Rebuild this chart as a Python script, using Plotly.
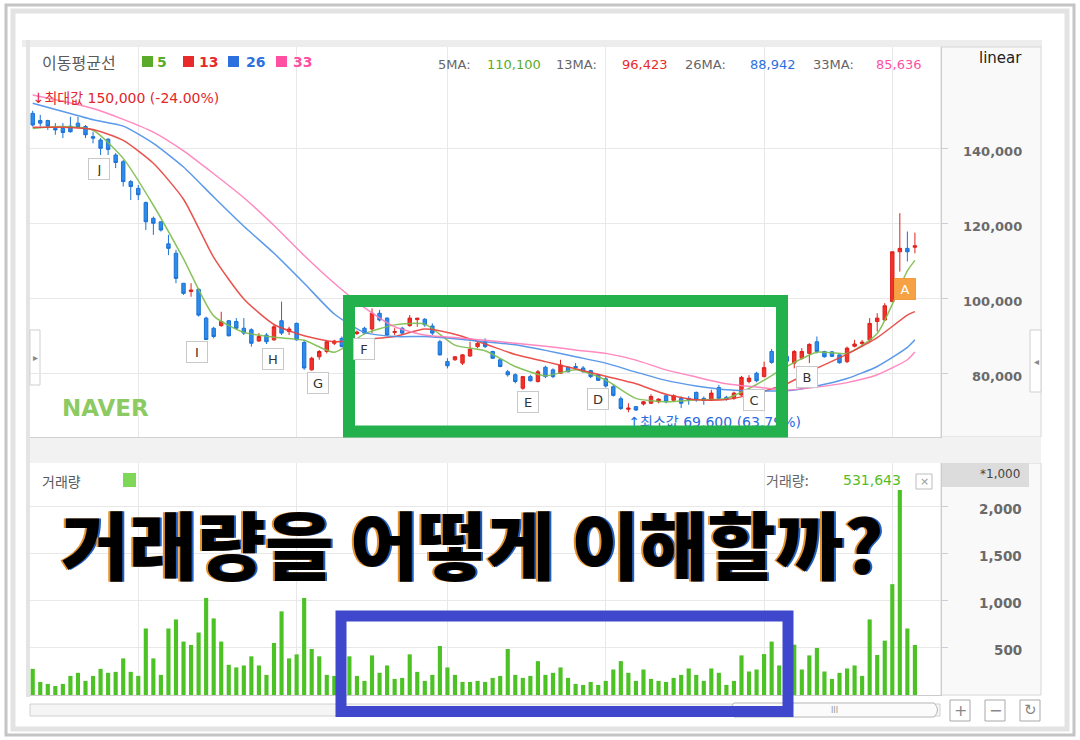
import plotly.graph_objects as go

W, H = 1080, 740


def px(x):
    return x / W


def py(y):
    return 1 - y / H


# ---------------- data (prices in thousand won, volume in thousand shares) ----------------
open_k = [149.3, 147.4, 147.4, 145.3, 145.3, 145.9, 146.7, 145.8, 143.1, 142.2,
          142.4, 138.2, 136.4, 131.1, 129.3, 125.5, 121.3, 120.4, 114.5, 112.0,
          104.0, 101.8, 102.4, 94.7, 92.0, 92.7, 94.0, 93.8, 92.0, 91.6,
          88.6, 90.2, 88.9, 94.0, 91.1, 93.3, 88.2, 80.9, 84.4, 85.8,
          88.0, 89.3, 87.3, 90.6, 92.0, 91.8, 96.0, 94.7, 90.9, 92.0,
          92.7, 94.3, 94.4, 92.6, 88.4, 83.1, 83.6, 82.7, 84.6, 87.1,
          88.4, 85.8, 83.6, 80.4, 79.6, 76.0, 79.1, 77.8, 81.6, 80.9,
          80.0, 81.6, 81.8, 81.4, 80.7, 79.6, 78.5, 76.4, 73.2, 70.4,
          71.1, 71.8, 72.0, 72.4, 74.0, 72.8, 73.3, 73.3, 74.9, 73.3,
          72.9, 76.2, 73.6, 73.3, 74.2, 77.8, 80.0, 79.1, 85.8, 83.0,
          84.5, 82.7, 84.0, 85.3, 88.4, 85.8, 85.7, 84.9, 83.1, 87.2,
          87.9, 88.9, 93.8, 94.2, 99.1, 112.4, 113.3, 113.6]
high_k = [150.0, 148.9, 147.6, 146.7, 146.7, 148.4, 148.4, 146.2, 144.4, 142.7,
          142.7, 138.7, 136.9, 131.5, 130.2, 125.8, 121.8, 120.4, 116.9, 112.9,
          104.0, 104.0, 102.7, 95.1, 92.4, 96.4, 94.2, 94.7, 94.7, 92.0,
          90.7, 90.7, 92.9, 99.1, 92.4, 93.5, 88.9, 84.4, 86.2, 88.6,
          88.9, 89.8, 89.4, 91.4, 92.4, 97.3, 96.9, 94.9, 92.0, 92.4,
          95.5, 94.7, 94.7, 93.3, 88.9, 84.0, 84.5, 85.1, 88.4, 88.4,
          89.3, 86.0, 83.8, 80.9, 80.0, 79.3, 79.6, 80.9, 82.0, 81.3,
          83.6, 81.8, 82.7, 81.9, 80.9, 79.8, 79.1, 77.0, 73.8, 72.0,
          71.2, 72.6, 74.4, 73.3, 74.4, 74.4, 73.8, 73.9, 75.1, 73.8,
          75.6, 76.9, 74.0, 75.1, 79.3, 79.5, 80.4, 83.1, 86.5, 84.9,
          85.5, 86.2, 86.7, 88.0, 89.8, 86.0, 85.9, 85.0, 87.1, 88.9,
          88.9, 94.7, 96.0, 98.7, 112.4, 122.7, 117.8, 117.5]
low_k = [145.8, 145.8, 144.9, 143.6, 142.7, 144.2, 145.3, 142.7, 141.3, 138.2,
         138.2, 134.7, 129.8, 126.2, 126.2, 118.2, 116.9, 117.8, 111.5, 104.0,
         100.9, 100.4, 95.1, 88.9, 89.3, 92.4, 89.8, 91.6, 90.2, 87.1,
         88.4, 87.8, 88.7, 90.2, 90.2, 88.7, 80.9, 80.7, 83.6, 85.3,
         87.5, 86.9, 87.0, 90.2, 90.4, 90.7, 93.8, 90.0, 90.2, 90.2,
         92.4, 92.4, 92.4, 90.2, 84.7, 81.3, 83.3, 82.2, 84.4, 86.7,
         86.7, 83.8, 81.6, 79.1, 77.3, 75.6, 77.8, 77.5, 78.7, 78.7,
         79.8, 80.2, 80.9, 80.2, 78.7, 78.0, 76.2, 73.8, 70.2, 69.6,
         70.0, 71.4, 71.8, 72.0, 72.0, 72.4, 70.7, 71.6, 72.4, 71.6,
         72.6, 72.9, 72.7, 72.9, 74.0, 77.3, 77.6, 78.9, 82.5, 82.6,
         82.8, 81.3, 83.6, 82.7, 85.3, 84.2, 84.3, 82.6, 82.7, 86.9,
         87.1, 88.4, 91.1, 94.0, 99.0, 107.1, 109.8, 112.0]
close_k = [146.2, 146.7, 145.9, 144.9, 144.2, 144.4, 145.6, 143.6, 142.7, 140.0,
           139.7, 136.2, 131.1, 129.8, 127.6, 120.4, 120.0, 118.2, 113.3, 105.3,
           101.3, 102.2, 95.5, 89.0, 89.8, 93.8, 90.0, 92.0, 90.7, 88.0,
           89.8, 88.4, 92.4, 90.7, 91.8, 88.9, 81.4, 84.0, 85.8, 88.4,
           88.6, 87.1, 88.8, 91.0, 90.7, 96.0, 94.2, 90.2, 91.1, 90.7,
           94.7, 94.7, 92.9, 90.7, 84.9, 82.0, 84.4, 84.9, 86.4, 88.0,
           87.1, 84.0, 81.8, 79.6, 77.8, 79.1, 78.0, 80.4, 79.1, 79.1,
           82.2, 80.4, 81.5, 80.4, 79.1, 78.1, 76.6, 74.1, 70.6, 70.7,
           70.2, 72.4, 73.8, 73.1, 72.4, 74.0, 72.0, 72.9, 72.9, 72.8,
           74.7, 73.3, 73.0, 74.7, 78.9, 78.7, 78.0, 81.5, 82.9, 84.5,
           83.2, 85.8, 85.8, 87.7, 85.8, 84.4, 84.5, 82.8, 86.7, 87.8,
           88.3, 93.3, 94.7, 98.0, 112.4, 113.3, 112.4, 114.0]
volume_k = [278, 139, 118, 96, 118, 203, 236, 150, 203, 278,
            236, 246, 389, 246, 203, 707, 389, 214, 707, 803,
            568, 532, 664, 1032, 814, 568, 321, 293, 314, 411,
            314, 214, 553, 889, 389, 432, 1032, 489, 411, 214,
            203, 230, 411, 203, 150, 421, 236, 314, 171, 182,
            432, 246, 150, 214, 521, 293, 214, 139, 139, 150,
            139, 182, 203, 489, 214, 182, 203, 360, 214, 236,
            293, 182, 118, 107, 139, 107, 150, 271, 360, 236,
            150, 271, 171, 150, 139, 182, 214, 282, 214, 150,
            282, 236, 107, 150, 421, 250, 271, 435, 568, 314,
            300, 535, 271, 421, 500, 250, 171, 236, 282, 314,
            203, 803, 425, 578, 1178, 2180, 707, 531.643]

# moving averages at every 4th session
ma_idx = [0, 4, 8, 12, 16, 20, 24, 28, 32, 36, 40, 44, 48, 52, 56, 60,
          64, 68, 72, 76, 80, 84, 88, 92, 96, 100, 104, 108, 112, 116, 117]
ma5_k = [145.3, 145.8, 144.8, 137.3, 124.8, 110.5, 95.3, 90.9, 89.6, 88.8,
         85.6, 90.5, 92.9, 93.1, 87.5, 86.0, 81.8, 79.3, 80.9, 78.2,
         73.3, 72.4, 72.9, 73.3, 77.0, 81.8, 85.6, 85.3, 90.6, 107.3, 110.1]
ma13_k = [145.6, 145.6, 145.0, 142.1, 136.0, 126.4, 110.9, 99.8, 93.0, 90.0,
          88.4, 89.0, 89.8, 91.8, 90.4, 87.8, 85.0, 83.1, 81.2, 79.2,
          77.2, 74.4, 72.9, 73.0, 74.7, 77.2, 81.3, 85.1, 89.5, 95.5, 96.423]
ma26_k = [152.0, 149.8, 147.6, 145.9, 141.3, 135.0, 127.0, 119.2, 112.0, 104.0,
          95.8, 90.9, 89.8, 89.8, 89.2, 88.4, 87.6, 86.1, 84.4, 82.7,
          80.3, 78.1, 76.6, 75.6, 75.3, 75.3, 76.6, 78.6, 81.8, 86.9, 88.942]
ma33_k = [154.2, 152.5, 150.6, 147.7, 144.3, 139.3, 133.2, 126.8, 119.4, 111.4,
          104.0, 97.5, 92.4, 90.2, 89.5, 88.8, 88.0, 87.2, 86.2, 85.3,
          83.5, 80.9, 79.0, 77.2, 76.3, 75.5, 76.3, 77.5, 79.6, 83.6, 85.636]

ma_periods = ["5", "13", "26", "33"]
ma_colors = ["#7dbd4c", "#e8403b", "#4a8fe8", "#ff7dba"]
ma_text_colors = ["#5aab2a", "#e82a2a", "#2e6fe0", "#ff4fa3"]
month_idx = [14, 35, 55, 76, 97, 114]
price_ticks = [80000, 100000, 120000, 140000]
volume_ticks = [500, 1000, 1500, 2000]
signal_labels = ["J", "I", "H", "G", "F", "E", "D", "C", "B", "A"]
title_text = "거래량을 어떻게 이해할까?"

# ---------------- derived ----------------
K = 1000
x_idx = list(range(len(close_k)))
open_w = [round(v * K) for v in open_k]
high_w = [round(v * K) for v in high_k]
low_w = [round(v * K) for v in low_k]
close_w = [round(v * K) for v in close_k]
ma_series = [[round(v * K) for v in s] for s in (ma5_k, ma13_k, ma26_k, ma33_k)]

max_high = max(high_w)
min_low = min(low_w)
i_max = high_w.index(max_high)
i_min = low_w.index(min_low)
last_close = close_w[-1]
pct_from_max = (last_close / max_high - 1) * 100
pct_from_min = (last_close / min_low - 1) * 100

KFONT = "Noto Sans CJK KR, DejaVu Sans, sans-serif"
LFONT = "DejaVu Sans, Noto Sans CJK KR, sans-serif"

fig = go.Figure()

for s, c in zip(ma_series, ma_colors):
    fig.add_trace(go.Scatter(x=ma_idx, y=s, mode="lines",
                             line=dict(color=c, width=1.5, shape="spline", smoothing=0.6),
                             opacity=0.9, hoverinfo="skip", showlegend=False,
                             xaxis="x", yaxis="y"))

fig.add_trace(go.Candlestick(
    x=x_idx, open=open_w, high=high_w, low=low_w, close=close_w,
    increasing=dict(line=dict(color="#e0201c", width=1), fillcolor="#f0322d"),
    decreasing=dict(line=dict(color="#1b72d6", width=1), fillcolor="#2d8ceb"),
    whiskerwidth=0, showlegend=False, hoverinfo="skip", xaxis="x", yaxis="y"))

# max / min markers (text under the overlay boxes)
fig.add_trace(go.Scatter(
    x=[i_max], y=[max_high + 3000], mode="text",
    text=[f"↓최대값 {max_high:,} ({pct_from_max:.2f}%)"], textposition="middle right",
    textfont=dict(color="#e3262b", size=14, family=LFONT),
    hoverinfo="skip", showlegend=False, cliponaxis=False, xaxis="x", yaxis="y"))
fig.add_trace(go.Scatter(
    x=[i_min], y=[min_low - 3100], mode="text",
    text=[f"↑최소값 {min_low:,} ({pct_from_min:.2f}%)"], textposition="middle right",
    textfont=dict(color="#2a6be0", size=14, family=LFONT),
    hoverinfo="skip", showlegend=False, cliponaxis=False, xaxis="x", yaxis="y"))

fig.add_trace(go.Bar(x=x_idx, y=volume_k, width=0.55,
                     marker=dict(color="#4cc225", line=dict(width=0)),
                     hoverinfo="skip", showlegend=False, xaxis="x2", yaxis="y2"))

# ---------------- decorations ----------------
shapes = []


def rect(x0, y0, x1, y1, fill=None, line=None, lw=1, layer="below"):
    shapes.append(dict(type="rect", xref="paper", yref="paper",
                       x0=px(x0), x1=px(x1), y0=py(y1), y1=py(y0),
                       fillcolor=fill if fill else "rgba(0,0,0,0)",
                       line=dict(color=line if line else "rgba(0,0,0,0)", width=lw if line else 0),
                       layer=layer))


# sketchy outer frame
rect(6, 5, 1074, 735, line="#c4c4c4", lw=3)
rect(13, 11, 1067, 729, line="#e3e3e3", lw=5)
# widget frame
rect(22, 40, 1042, 47, fill="#ededed")
rect(26, 40, 30, 697, fill="#e4e4e4")
# right axis panels
rect(941, 47, 1041, 437, fill="#f9f9f9", line="#d6d6d6")
rect(941, 463, 1041, 695, fill="#f9f9f9", line="#d6d6d6")
rect(942, 463, 1029, 487, fill="#dcdcdc")
# band between panels
rect(30, 437, 1041, 463, fill="#f2f2f2")
# side tabs
rect(1030, 330, 1041, 392, fill="#ffffff", line="#cfcfcf")
rect(30, 330, 40, 385, fill="#ffffff", line="#cfcfcf")
# legend squares
leg_sq = [(142, 153), (183, 194), (228, 239), (276, 287)]
for (a, b), c in zip(leg_sq, ma_text_colors):
    rect(a, 56, b, 67, fill=c)
rect(123, 473, 136, 487, fill="#7ed858")
# close button in volume header
rect(916, 474, 932, 489, fill="#ffffff", line="#bdbdbd")
# scroll bar and buttons
rect(30, 704, 940, 716, fill="#f5f5f5", line="#d0d0d0")
shapes.append(dict(type="path", xref="paper", yref="paper",
                   path=(f"M {px(734)},{py(703)} L {px(934)},{py(703)} "
                         f"Q {px(941)},{py(710)} {px(934)},{py(717)} L {px(734)},{py(717)} "
                         f"Q {px(727)},{py(710)} {px(734)},{py(703)} Z"),
                   fillcolor="#fbfbfb", line=dict(color="#b5b5b5", width=1), layer="below"))
for a in (950, 985, 1020):
    rect(a, 700, a + 20, 721, fill="#ffffff", line="#a9a9a9")
# overlay boxes
rect(349, 301, 782, 431.5, line="#22b14c", lw=12, layer="above")
rect(341, 616, 788, 711.5, line="#3f48cc", lw=11, layer="above")

ann = []


def txt(x, y, s, size=13, color="#555", anchor="left", family=KFONT, weight="normal", **kw):
    ann.append(dict(x=px(x), y=py(y), xref="paper", yref="paper", text=s, showarrow=False,
                    xanchor=anchor, yanchor="middle",
                    font=dict(size=size, color=color, family=family, weight=weight), **kw))


# header of price panel
txt(40, 62, "이동평균선", size=16, color="#5a5a5a")
for xpos, lab, c in zip([155, 197, 244, 291], ma_periods, ma_text_colors):
    txt(xpos, 62, lab, size=14, color=c, family=LFONT, weight="bold")
ma_last = [ma5_k[-1], ma13_k[-1], ma26_k[-1], ma33_k[-1]]
lab_x = [436, 554, 683, 811]
val_x = [485, 620, 748, 874]
for p, lx, vx, v, c in zip(ma_periods, lab_x, val_x, ma_last, ma_text_colors):
    txt(lx, 64, f"{p}MA:", size=13, color="#666", family=LFONT)
    txt(vx, 64, f"{round(v * K):,}", size=13, color=c, family=LFONT)
txt(1000, 58, "linear", size=15, color="#222", anchor="center", family=LFONT)
txt(60, 408, "NAVER", size=23, color="#8cca63", family=LFONT, weight="bold")
txt(35, 357, "▸", size=10, color="#888", anchor="center", family=LFONT)
txt(1036, 361, "◂", size=10, color="#888", anchor="center", family=LFONT)

# volume header
txt(40, 481, "거래량", size=14, color="#5a5a5a")
txt(764, 480, "거래량:", size=14, color="#666")
txt(841, 480, f"{round(volume_k[-1] * K):,}", size=14, color="#55bd28", family=LFONT)
txt(924, 481, "×", size=11, color="#999", anchor="center", family=LFONT)
txt(1022, 474, "*1,000", size=12, color="#444", anchor="right", family=LFONT)

# scroll controls
txt(834, 710, "III", size=8, color="#999", anchor="center", family=LFONT)
txt(960, 710, "+", size=16, color="#888", anchor="center", family=LFONT)
txt(995, 710, "−", size=16, color="#888", anchor="center", family=LFONT)
txt(1030, 710, "↻", size=15, color="#888", anchor="center", family=LFONT)

# right-aligned axis labels
for v in price_ticks:
    ann.append(dict(x=px(1024), xref="paper", y=v, yref="y", yshift=-3, text=f"{v:,}",
                    showarrow=False, xanchor="right", yanchor="middle",
                    font=dict(size=13, color="#6a6a6a", family=LFONT, weight="bold")))
for v in volume_ticks:
    ann.append(dict(x=px(1024), xref="paper", y=v, yref="y2", yshift=-2, text=f"{v:,}",
                    showarrow=False, xanchor="right", yanchor="middle",
                    font=dict(size=13.5, color="#6a6a6a", family=LFONT, weight="bold")))

# signal labels on the candles
label_pos = [(8.73, 134350), (21.76, 85760), (31.89, 83730), (37.86, 77490), (43.96, 86480),
             (65.72, 72210), (74.95, 73150), (95.71, 72750), (102.75, 78990), (115.68, 102370)]
for lab, (lx, ly) in zip(signal_labels, label_pos):
    orange = lab == "A"
    ann.append(dict(x=lx, y=ly, xref="x", yref="y", text=lab, showarrow=False,
                    width=14, height=14, borderpad=3,
                    bgcolor="#f7a145" if orange else "#ffffff",
                    bordercolor="#f39a3c" if orange else "#c9c9c9", borderwidth=1,
                    font=dict(size=13, color="#ffffff" if orange else "#333333", family=LFONT)))

# big title with colour fringe (as text shadow)
ann.append(dict(x=px(472), y=py(541), xref="paper", yref="paper", text=title_text,
                showarrow=False, xanchor="center", yanchor="middle",
                font=dict(size=74, color="#000000", family="Noto Sans CJK KR", weight=900,
                          shadow="-2px 0px 0px #e8922c, 2px 0px 0px #1f5fc4")))

grid = "#e8e8e8"
xr = [-0.36, 120.46]
xdom = [px(30), px(941)]

fig.update_layout(
    width=W, height=H, autosize=False,
    margin=dict(l=0, r=0, t=0, b=0),
    paper_bgcolor="#ffffff", plot_bgcolor="#ffffff",
    boxgap=0.35, bargap=0.4,
    showlegend=False,
    shapes=shapes, annotations=ann,
    xaxis=dict(domain=xdom, range=xr, anchor="y", tickvals=month_idx, showticklabels=False,
               ticks="", showgrid=True, gridcolor=grid, zeroline=False,
               showline=True, linecolor="#d0d0d0", rangeslider=dict(visible=False),
               fixedrange=True),
    yaxis=dict(domain=[py(437), py(47)], range=[63000, 167000], side="right", anchor="x",
               tickvals=price_ticks, showticklabels=False, ticks="outside", ticklen=6,
               tickcolor="#c6d0dc", showgrid=True, gridcolor=grid, zeroline=False,
               showline=True, linecolor="#c6d0dc", fixedrange=True),
    xaxis2=dict(domain=xdom, range=xr, anchor="y2", tickvals=month_idx, showticklabels=False,
                ticks="", showgrid=True, gridcolor=grid, zeroline=False,
                showline=True, linecolor="#cccccc", fixedrange=True),
    yaxis2=dict(domain=[py(695), py(463)], range=[0, 2466], side="right", anchor="x2",
                tickvals=volume_ticks, showticklabels=False, ticks="outside", ticklen=6,
                tickcolor="#c6d0dc", showgrid=True, gridcolor=grid, zeroline=False,
                showline=True, linecolor="#c6d0dc", fixedrange=True),
)

fig.write_html("out.html", config={"displayModeBar": False},
               post_script="document.body.style.margin='0';document.body.style.overflow='hidden';")
